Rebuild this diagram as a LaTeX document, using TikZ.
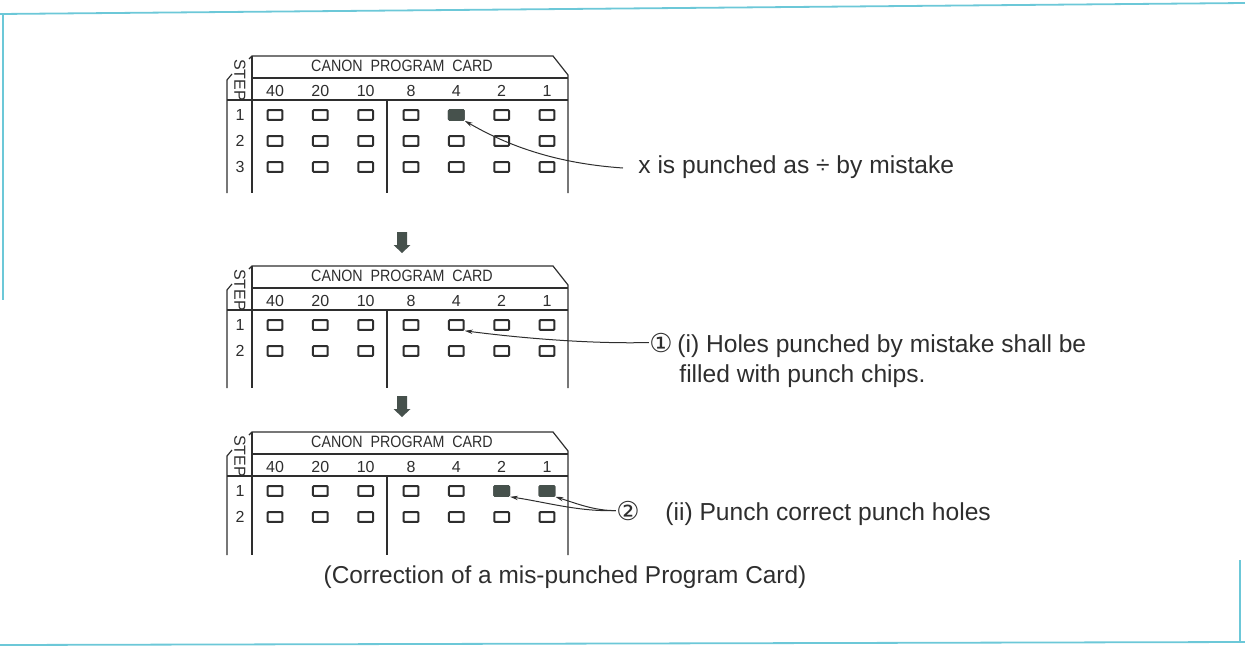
\documentclass[tikz,border=0pt]{standalone}
\usepackage{fontspec}
\setmainfont{Liberation Sans}
\newfontfamily\simbolos{DejaVu Sans}
\newfontfamily\estrecha[FakeStretch=0.87]{Liberation Sans}
\usetikzlibrary{arrows.meta,calc}
\definecolor{ctinta}{HTML}{2E2E2E}
\definecolor{cperfo}{HTML}{46514C}
\definecolor{cmarco}{HTML}{6CC8D8}
\tikzset{
  linea/.style={draw=ctinta,line width=0.6pt},
  hueco/.style={draw=ctinta,line width=1pt,minimum width=7.4pt,minimum height=4.8pt,
                inner sep=0pt,rounded corners=0.4pt},
  huecol/.style={hueco,fill=cperfo,draw=cperfo},
  cab/.style={font=\estrecha\fontsize{8.2}{9}\selectfont,text=ctinta,inner sep=0pt},
  num/.style={font=\fontsize{8}{9}\selectfont,text=ctinta,inner sep=0pt},
  nota/.style={font=\fontsize{12.3}{15}\selectfont,text=ctinta,inner sep=0pt,anchor=base west},
  circ/.style={nota,font=\simbolos\fontsize{13}{15}\selectfont,anchor=base},
  guia/.style={draw=ctinta,line width=0.5pt,-{Stealth[length=4pt,width=2.2pt]}},
  flechab/.style={fill=cperfo},
  marco/.style={draw=cmarco,line width=0.9pt},
}
% #1 nombre, #2 desplazamiento, #3 filas, #4 fondo, #5 huecos perforados
\newcommand{\tarjeta}[5]{%
  \begin{scope}[shift={(0,#2)}]
    \draw[linea] (232,74) -- (227,80) -- (227,#4);
    \draw[linea] (249,59) -- (252,56) -- (553,56) -- (568,75) -- (568,#4);
    \draw[linea] (252,56) -- (252,#4);
    \draw[linea] (252,78) -- (568,78);
    \draw[linea] (227,100) -- (568,100);
    \draw[linea] (387,100) -- (387,#4);
    \node[cab] (#1-tit) at (402,66) {CANON\ \ PROGRAM\ \ CARD};
    \node[num,rotate=-90] (#1-step) at (240,80) {STEP};
    \foreach \v [count=\c] in {40,20,10,8,4,2,1}
      \node[num] (#1-c\c) at ({275+45.33*(\c-1)},91) {\v};
    \foreach \f in {1,...,#3} {
      \node[num] (#1-f\f) at (240,{115+26*(\f-1)}) {\f};
      \foreach \c in {1,...,7}
        \node[hueco] (#1-\f-\c) at ({275+45.33*(\c-1)},{115+26*(\f-1)}) {};
    }
    \foreach \p in {#5}
      \node[huecol] (#1-\p-l) at (#1-\p) {};
  \end{scope}}
\newcommand{\flechabaja}[2]{%
  \fill[flechab] (#1,#2) ++(-5,0) -- ++(10,0) -- ++(0,13) -- ++(3.5,0)
    -- ++(-8.5,8) -- ++(-8.5,-8) -- ++(3.5,0) -- cycle;}

\begin{document}
\begin{tikzpicture}[x=0.5pt,y=-0.5pt]
\useasboundingbox (0,0) rectangle (1245,648);

% marco
\draw[marco] (0,14) -- (1245,3);
\draw[marco] (3,14) -- (3,300);
\draw[marco] (0,645) -- (1245,642);
\draw[marco] (1240,560) -- (1240,643);

% tarjetas
\tarjeta{t1}{0}{3}{193}{1-5}
\tarjeta{t2}{210}{2}{178}{}
\tarjeta{t3}{376}{2}{179}{1-6,1-7}

\flechabaja{402}{232}
\flechabaja{402}{396}

% notas
\coordinate (g1) at (623,168);
\node[nota] (n1) at (638,173) {x is punched as ÷ by mistake};
\node[circ] (n2c) at (661,352) {①};
\node[nota] (n2) at (677,352) {(i) Holes punched by mistake shall be};
\node[nota] (n2b) at (679,382) {filled with punch chips.};
\node[circ] (n3c) at (628,520) {②};
\node[nota] (n3) at (665,520) {(ii) Punch correct punch holes};
\node[font=\fontsize{12.2}{15}\selectfont,text=ctinta,inner sep=0pt,anchor=base] (cap) at (565,583)
  {(Correction of a mis-punched Program Card)};

\draw[guia] (g1) .. controls (565,164) and (515,150) .. (t1-1-5-l.south east);
\draw[guia] (n2c.west) .. controls (590,344) and (520,338) .. (t2-1-5.south east);
\draw[guia] (n3c.west) .. controls (580,512) and (545,502) .. (t3-1-6-l.south east);
\draw[guia] (n3c.west) .. controls (595,511) and (575,503) .. (t3-1-7-l.south east);

\end{tikzpicture}
\end{document}
